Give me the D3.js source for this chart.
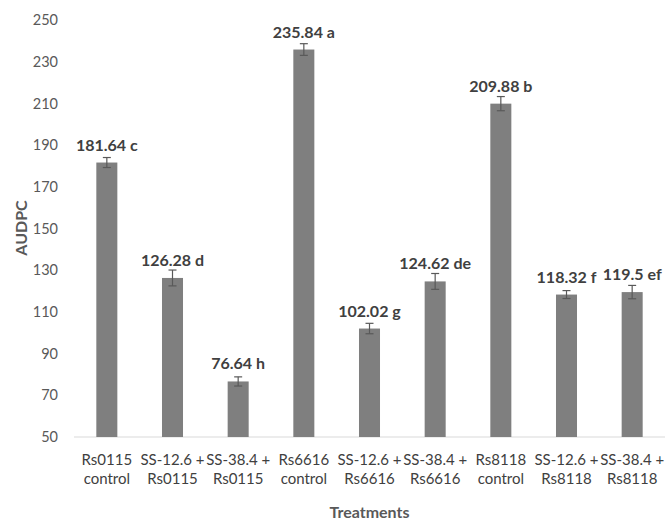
<!DOCTYPE html>
<html>
<head>
<meta charset="utf-8">
<script src="https://cdn.jsdelivr.net/npm/d3@7"></script>
<style>
  body { margin: 0; background: #fff; }
  text { font-family: Lato, "Open Sans", sans-serif; }
</style>
</head>
<body>
<div id="chart"></div>
<script>
var categories = [
    ["Rs0115", "control"],
    ["SS-12.6 +", "Rs0115"],
    ["SS-38.4 +", "Rs0115"],
    ["Rs6616", "control"],
    ["SS-12.6 +", "Rs6616"],
    ["SS-38.4 +", "Rs6616"],
    ["Rs8118", "control"],
    ["SS-12.6 +", "Rs8118"],
    ["SS-38.4 +", "Rs8118"]
];
var values = [181.64, 126.28, 76.64, 235.84, 102.02, 124.62, 209.88, 118.32, 119.5];
var letters = ["c", "d", "h", "a", "g", "de", "b", "f", "ef"];
var errors = [2.4, 3.8, 2.2, 2.8, 2.5, 3.8, 3.4, 1.9, 3.2];
var yTicks = [50, 70, 90, 110, 130, 150, 170, 190, 210, 230, 250];

function init() {
    var width = 665;
    var height = 521;

    var svg = d3.select("#chart")
        .append("svg")
        .attr("width", width)
        .attr("height", height);

    // Scales
    var x = d3.scaleBand()
        .domain(d3.range(values.length))
        .range([74, 665])
        .paddingInner(0.68)
        .paddingOuter(0.34);

    var y = d3.scaleLinear()
        .domain([50, 250])
        .range([437, 20]);

    // Y axis labels (no line)
    var yAxis = svg.append("g")
        .attr("transform", "translate(66,0)")
        .call(d3.axisLeft(y).tickValues(yTicks).tickSize(0).tickPadding(8));
    yAxis.select(".domain").remove();
    yAxis.selectAll("text")
        .style("font-size", "14.5px")
        .style("font-family", "Lato, sans-serif")
        .attr("fill", "#595959");

    // X axis baseline
    svg.append("line")
        .attr("x1", 74).attr("x2", 665)
        .attr("y1", y(50)).attr("y2", y(50))
        .attr("stroke", "#d9d9d9")
        .attr("stroke-width", 1);

    // Bars
    svg.selectAll(".bar")
        .data(values)
        .enter()
        .append("rect")
        .attr("class", "bar")
        .attr("x", function (d, i) { return x(i); })
        .attr("width", x.bandwidth())
        .attr("y", function (d) { return y(d); })
        .attr("height", function (d) { return y(50) - y(d); })
        .attr("fill", "#7f7f7f");

    // Error bars
    var err = svg.selectAll(".err")
        .data(values)
        .enter()
        .append("g")
        .attr("class", "err")
        .attr("stroke", "#595959")
        .attr("stroke-width", 1.2);
    var cx = function (i) { return x(i) + x.bandwidth() / 2; };
    err.append("line")
        .attr("x1", function (d, i) { return cx(i); })
        .attr("x2", function (d, i) { return cx(i); })
        .attr("y1", function (d, i) { return y(d + errors[i]); })
        .attr("y2", function (d, i) { return y(d - errors[i]); });
    err.append("line")
        .attr("x1", function (d, i) { return cx(i) - 4; })
        .attr("x2", function (d, i) { return cx(i) + 4; })
        .attr("y1", function (d, i) { return y(d + errors[i]); })
        .attr("y2", function (d, i) { return y(d + errors[i]); });
    err.append("line")
        .attr("x1", function (d, i) { return cx(i) - 4; })
        .attr("x2", function (d, i) { return cx(i) + 4; })
        .attr("y1", function (d, i) { return y(d - errors[i]); })
        .attr("y2", function (d, i) { return y(d - errors[i]); });

    // Value labels
    svg.selectAll(".val")
        .data(values)
        .enter()
        .append("text")
        .attr("class", "val")
        .attr("x", function (d, i) { return cx(i); })
        .attr("y", function (d) { return y(d) - 12; })
        .attr("text-anchor", "middle")
        .style("font-size", "16px")
        .style("font-weight", "bold")
        .attr("fill", "#404040")
        .text(function (d, i) { return d + " " + letters[i]; });

    // Category labels
    var cat = svg.selectAll(".cat")
        .data(categories)
        .enter()
        .append("text")
        .attr("class", "cat")
        .attr("text-anchor", "middle")
        .style("font-size", "15px")
        .attr("fill", "#404040");
    cat.append("tspan")
        .attr("x", function (d, i) { return cx(i); })
        .attr("y", 465)
        .text(function (d) { return d[0]; });
    cat.append("tspan")
        .attr("x", function (d, i) { return cx(i); })
        .attr("y", 484)
        .text(function (d) { return d[1]; });

    // Axis titles
    svg.append("text")
        .attr("x", (74 + 665) / 2)
        .attr("y", 518)
        .attr("text-anchor", "middle")
        .style("font-size", "16px")
        .style("font-weight", "bold")
        .attr("fill", "#595959")
        .text("Treatments");

    svg.append("text")
        .attr("transform", "translate(27,228) rotate(-90)")
        .attr("text-anchor", "middle")
        .style("font-size", "16px")
        .style("font-weight", "bold")
        .attr("fill", "#595959")
        .text("AUDPC");
}

window.onload = init;
</script>
</body>
</html>
